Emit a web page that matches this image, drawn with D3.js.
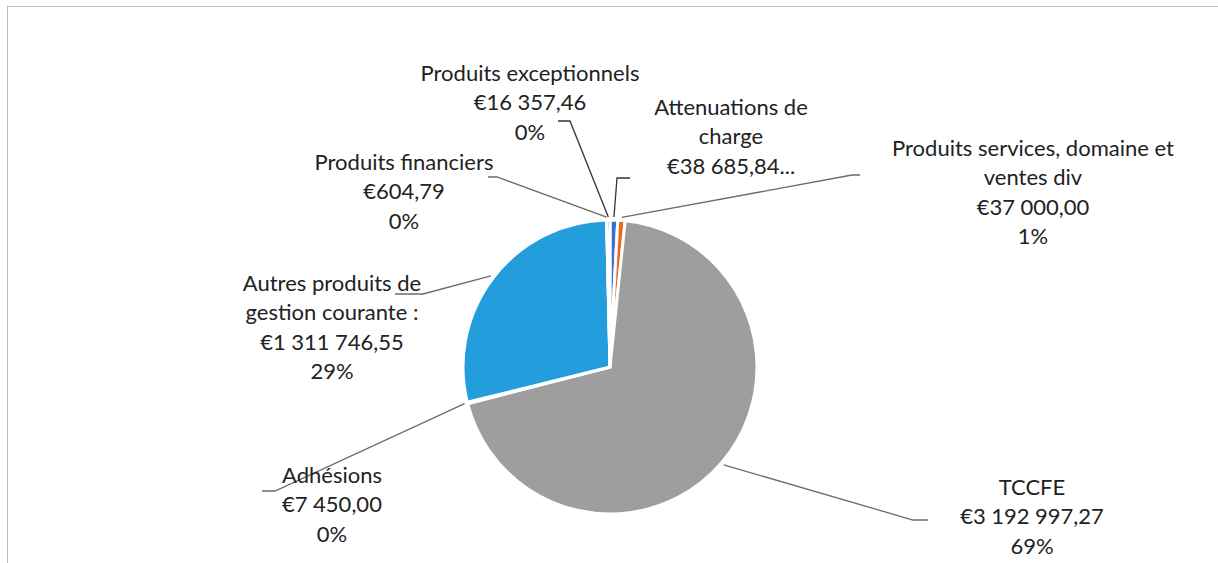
<!DOCTYPE html>
<html>
<head>
<meta charset="utf-8">
<script src="https://cdn.jsdelivr.net/npm/d3@7"></script>
<style>
  body { margin: 0; background: #fff; }
  text { font-family: Lato, "Open Sans", sans-serif; fill: #222; }
</style>
</head>
<body>
<svg></svg>
<script>
// data, in the order Excel draws it (clockwise from 12 o'clock)
var categories = ["Attenuations de charge", "Produits services, domaine et ventes div", "TCCFE",
                  "Adhésions", "Autres produits de gestion courante :", "Produits financiers", "Produits exceptionnels"];
var values = [38685.84, 37000.00, 3192997.27, 7450.00, 1311746.55, 604.79, 16357.46];
// percentages as printed on the chart ("" = cut off by the label box)
var percents = ["", "1%", "69%", "0%", "29%", "0%", "0%"];
var nameLines = [["Attenuations de", "charge"], ["Produits services, domaine et", "ventes div"], ["TCCFE"],
                 ["Adhésions"], ["Autres produits de", "gestion courante :"], ["Produits financiers"], ["Produits exceptionnels"]];
var colors = ["#3c6fd1", "#e9681f", "#9d9f9e", "#f2b705", "#249ddc", "#5aa346", "#2c4f9a"];

var width = 1218;
var height = 563;
var cx = 610, cy = 367, radius = 147;

// label placement: first line centre, and the two leader points on the label side
var labelPos = [
  {x: 731, y: 107, p: [[630, 178], [617, 178]]},
  {x: 1033, y: 148, p: [[860, 175], [852, 175]]},
  {x: 1032, y: 487, p: [[928, 520], [913, 520]]},
  {x: 332, y: 475, p: [[262, 491], [275, 491]]},
  {x: 332, y: 283, p: [[395, 294], [423, 294]]},
  {x: 404, y: 162, p: [[488, 177], [497, 177]]},
  {x: 530, y: 73, p: [[558, 121], [570, 121]]}
];
var lineH = 29.5;

var fr = d3.formatLocale({decimal: ",", thousands: "\u202f", grouping: [3], currency: ["€", ""]});
var money = fr.format("$,.2f");

var svg = d3.select("svg")
            .attr("width", width)
            .attr("height", height);

// chart frame (only top and left edges show)
svg.append("rect")
   .attr("x", 7.5).attr("y", 6.5)
   .attr("width", width + 20).attr("height", height + 20)
   .attr("fill", "none")
   .attr("stroke", "#bdbdbd")
   .attr("stroke-width", 1);

var pie = d3.pie().sort(null).value(d => d);
var arcs = pie(values);

var arc = d3.arc().innerRadius(0).outerRadius(radius);

var g = svg.append("g").attr("transform", "translate(" + cx + "," + cy + ")");

g.selectAll("path")
 .data(arcs)
 .enter().append("path")
 .attr("d", arc)
 .attr("fill", (d, i) => colors[i])
 .attr("stroke", "#fff")
 .attr("stroke-width", 3)
 .attr("stroke-linejoin", "miter");

// leader lines
var lineGen = d3.line();
svg.selectAll(".leader")
   .data(arcs)
   .enter().append("path")
   .attr("class", "leader")
   .attr("fill", "none")
   .attr("stroke", (d, i) => (i == 0 || i == 6) ? "#333" : "#6b6b6b")
   .attr("stroke-width", 1.3)
   .attr("d", (d, i) => {
     var a = (d.startAngle + d.endAngle) / 2;
     var r = radius + 3;
     var end = [cx + r * Math.sin(a), cy - r * Math.cos(a)];
     return lineGen(labelPos[i].p.concat([end]));
   });

// labels
var labels = svg.selectAll(".label")
   .data(arcs)
   .enter().append("text")
   .attr("class", "label")
   .attr("text-anchor", "middle")
   .attr("font-size", 22);

labels.each(function(d, i) {
  var lines = nameLines[i].slice();
  if (percents[i] == "") {
    lines.push(money(values[i]) + "...");
  } else {
    lines.push(money(values[i]));
    lines.push(percents[i]);
  }
  d3.select(this).selectAll("tspan")
    .data(lines)
    .enter().append("tspan")
    .attr("x", labelPos[i].x)
    .attr("y", (t, k) => labelPos[i].y + k * lineH)
    .attr("dy", "0.35em")
    .text(t => t);
});
</script>
</body>
</html>
